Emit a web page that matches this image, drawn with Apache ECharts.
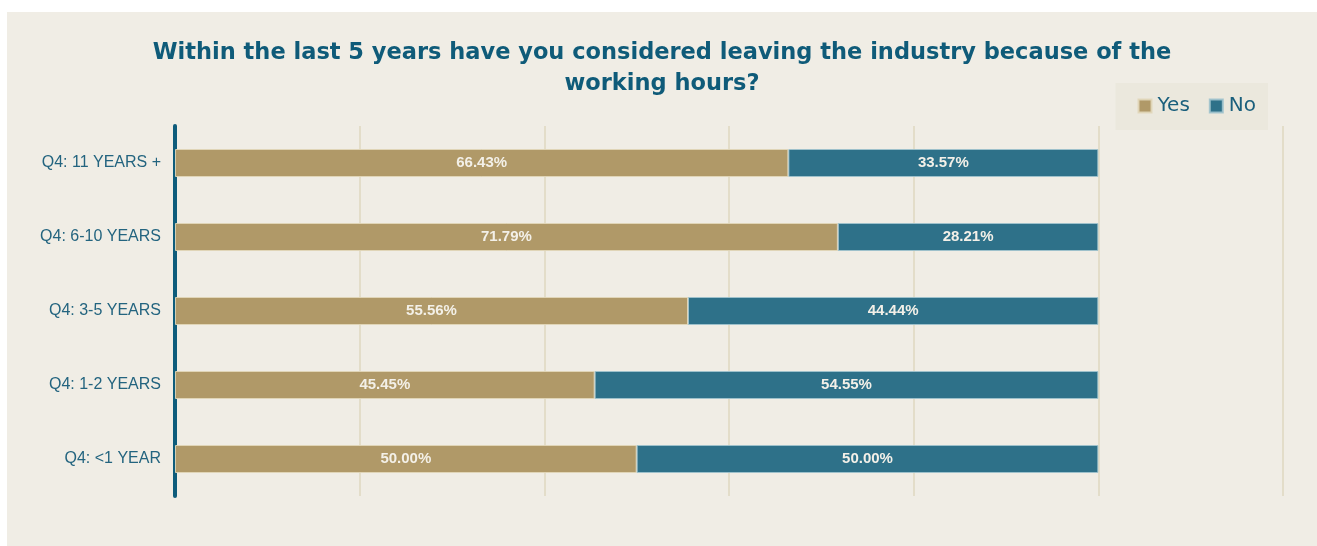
<!DOCTYPE html>
<html>
<head>
<meta charset="utf-8">
<script src="https://cdn.jsdelivr.net/npm/echarts@6/dist/echarts.min.js"></script>
<style>
  html, body { margin: 0; padding: 0; background: #ffffff; }
  #chart { position: absolute; left: 7px; top: 12px; width: 1310px; height: 534px; }
</style>
</head>
<body>
<div id="chart"></div>
<script>
// Experience groups, top to bottom
const categories = ['Q4: 11 YEARS +', 'Q4: 6-10 YEARS', 'Q4: 3-5 YEARS', 'Q4: 1-2 YEARS', 'Q4: <1 YEAR'];
// Share of respondents (%) per answer
const yesValues = [66.43, 71.79, 55.56, 45.45, 50.00];
const noValues = [33.57, 28.21, 44.44, 54.55, 50.00];
const seriesNames = ['Yes', 'No'];

const chart = echarts.init(document.getElementById('chart'));

const pctLabel = {
  show: true,
  position: 'inside',
  color: '#f3f0e8',
  fontFamily: 'Liberation Sans, Arial, sans-serif',
  fontWeight: 'bold',
  fontSize: 15,
  formatter: p => p.value.toFixed(2) + '%'
};

chart.setOption({
  backgroundColor: '#f0ede5',
  animation: false,
  title: {
    text: 'Within the last 5 years have you considered leaving the industry because of the\nworking hours?',
    left: 'center',
    top: 21,
    textStyle: {
      color: '#0f5b79',
      fontFamily: 'DejaVu Sans',
      fontWeight: 'bold',
      fontSize: 22.5,
      lineHeight: 31
    }
  },
  legend: {
    data: seriesNames,
    right: 49,
    top: 71,
    backgroundColor: '#ebe8dd',
    padding: [13, 12, 14, 22],
    itemWidth: 13,
    itemHeight: 13,
    itemGap: 19,
    icon: 'rect',
    textStyle: {
      color: '#1a5f7c',
      fontFamily: 'DejaVu Sans',
      fontSize: 20,
      padding: [0, 0, 0, 1]
    }
  },
  grid: {
    left: 168,
    right: 34,
    top: 114,
    bottom: 50,
    containLabel: false
  },
  xAxis: {
    type: 'value',
    min: 0,
    max: 120,
    interval: 20,
    axisLabel: { show: false },
    axisLine: { show: false },
    axisTick: { show: false },
    splitLine: { lineStyle: { color: '#e3ddc9', width: 2 } }
  },
  yAxis: {
    type: 'category',
    data: categories,
    inverse: true,
    axisLine: { show: true, lineStyle: { color: '#0e5c7b', width: 4 } },
    axisTick: { show: false },
    axisLabel: {
      color: '#23647f',
      fontFamily: 'Liberation Sans, Arial, sans-serif',
      fontSize: 16,
      margin: 14
    }
  },
  series: [
    {
      name: seriesNames[0],
      type: 'bar',
      stack: 'total',
      data: yesValues,
      barWidth: 28,
      itemStyle: { color: '#b09968', borderColor: 'rgba(225,215,185,0.9)', borderWidth: 1 },
      label: pctLabel
    },
    {
      name: seriesNames[1],
      type: 'bar',
      stack: 'total',
      data: noValues,
      barWidth: 28,
      itemStyle: { color: '#2e7189', borderColor: 'rgba(160,195,205,0.9)', borderWidth: 1 },
      label: pctLabel
    }
  ]
});
</script>
</body>
</html>
